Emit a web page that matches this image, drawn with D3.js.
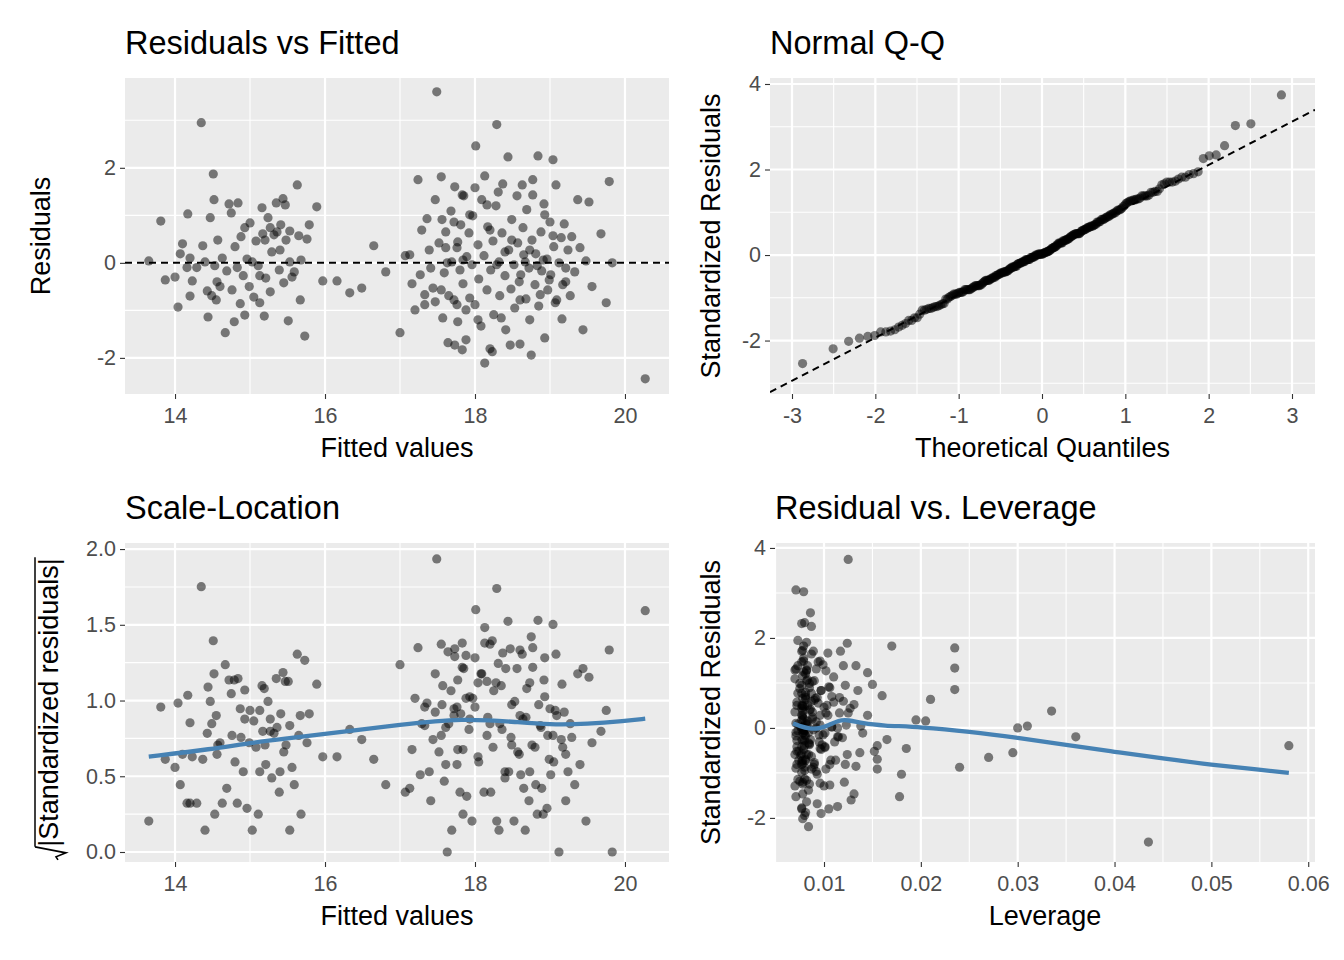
<!DOCTYPE html>
<html><head><meta charset="utf-8">
<script src="https://cdn.jsdelivr.net/npm/d3@7"></script>
<style>body{margin:0;background:#fff}text{font-family:"Liberation Sans",Arial,sans-serif}</style>
</head><body>
<svg id="c" width="1344" height="960"></svg>
<script>
// [fitted, residual, leverage]
const points = [
[13.65,0.04,0.031],[13.81,0.88,0.0105],[13.87,-0.36,0.0098],[14.0,-0.3,0.0095],[14.04,-0.93,0.0092],[14.07,0.19,0.0088],[14.1,0.4,0.0086],[14.16,-0.1,0.0084],[14.17,1.03,0.0083],[14.2,-0.7,0.0081],
[14.23,-0.38,0.008],[14.35,2.95,0.0071],[14.37,0.36,0.0078],[14.4,0.02,0.0077],[14.43,-0.59,0.0076],[14.44,-1.14,0.0075],[14.47,0.95,0.0075],[14.49,-0.69,0.0074],[14.51,1.87,0.0073],[14.52,1.33,0.0073],
[14.53,-0.06,0.0073],[14.55,-0.78,0.0072],[14.57,0.48,0.0072],[14.6,-0.5,0.0072],[14.63,0.1,0.0071],[14.67,-1.47,0.0071],[14.69,-0.17,0.0071],[14.72,1.24,0.007],[14.75,1.05,0.007],[14.76,-0.57,0.007],
[14.79,-1.24,0.0070],[14.8,0.34,0.0070],[14.83,-0.1,0.0071],[14.84,1.26,0.0071],[14.87,-0.86,0.0071],[14.88,0.55,0.0072],[14.91,-0.27,0.0072],[14.93,-1.1,0.0073],[14.96,0.08,0.0073],[14.99,-0.5,0.0074],
[15.0,0.84,0.0075],[15.03,0.02,0.0076],[15.05,-0.72,0.0077],[15.08,0.46,0.0078],[15.11,-0.06,0.0079],[15.13,-0.84,0.008],[15.16,1.16,0.0081],[15.19,-1.12,0.0082],[15.2,0.48,0.0083],[15.21,-0.32,0.0084],
[15.24,0.95,0.0085],[15.27,-0.61,0.0087],[15.29,0.23,0.0088],[15.32,0.59,0.009],[15.35,1.26,0.0092],[15.36,0.65,0.0093],[15.39,-0.15,0.0095],[15.41,0.8,0.0097],[15.44,1.35,0.0099],[15.45,-0.42,0.0101],
[15.48,0.48,0.0103],[15.51,-1.22,0.0106],[15.53,0.67,0.0108],[15.56,-0.3,0.0111],[15.59,-0.19,0.0114],[15.63,1.64,0.0117],[15.65,0.57,0.012],[15.68,0.06,0.0123],[15.73,-1.54,0.0128],[15.76,0.5,0.0131],
[15.79,0.8,0.0135],[15.89,1.18,0.0145],[15.97,-0.38,0.0155],[16.16,-0.38,0.058],[16.33,-0.63,0.027],[16.49,-0.53,0.0295],[16.65,0.36,0.0335],[16.81,-0.19,0.036],[17.0,-1.47,0.0178],
[17.07,0.15,0.0205],[17.13,0.17,0.0195],[17.16,-0.44,0.0185],[17.2,-0.99,0.018],[17.24,1.75,0.017],[17.27,-0.25,0.0165],[17.29,0.69,0.016],[17.33,-0.67,0.0155],[17.36,0.93,0.015],[17.39,0.27,0.0145],
[17.41,-0.11,0.014],[17.44,-0.53,0.0137],[17.47,1.33,0.0133],[17.49,3.6,0.0125],[17.52,0.42,0.0127],[17.55,1.81,0.0124],[17.57,-1.16,0.0121],[17.59,-0.21,0.0119],[17.61,0.65,0.0116],[17.64,-1.68,0.0114],
[17.65,-0.69,0.0112],[17.68,1.09,0.011],[17.69,0.02,0.0108],[17.72,-0.78,0.0106],[17.73,1.6,0.0104],[17.76,0.32,0.0102],[17.77,-1.24,0.01],[17.8,-0.15,0.0099],[17.81,0.8,0.0097],[17.84,-0.44,0.0096],
[17.85,1.41,0.0094],[17.88,-1.62,0.0093],[17.89,0.13,0.0092],[17.92,0.63,0.0091],[17.93,-0.74,0.009],[17.96,-0.04,0.0089],[17.97,0.99,0.0088],[18.0,-0.88,0.0087],[18.01,2.46,0.0086],[18.04,0.38,0.0085],
[18.05,-0.34,0.0085],[18.08,-1.33,0.0084],[18.09,1.33,0.0083],[18.12,0.15,0.0083],[18.13,1.83,0.0082],[18.16,-0.57,0.0082],[18.17,0.76,0.0081],[18.2,-1.81,0.0081],[18.21,-0.15,0.008],[18.24,0.46,0.008],
[18.25,-1.09,0.008],[18.28,1.2,0.0079],[18.29,2.91,0.0079],[18.32,0.02,0.0079],[18.33,-0.69,0.0078],[18.36,0.63,0.0078],[18.37,1.66,0.0078],[18.4,-0.27,0.0078],[18.41,-1.41,0.0078],[18.44,2.23,0.0077],
[18.45,0.27,0.0077],[18.48,-0.55,0.0077],[18.49,0.91,0.0077],[18.52,-0.04,0.0077],[18.53,-0.95,0.0077],[18.56,1.41,0.0077],[18.57,0.42,0.0077],[18.6,-1.71,0.0077],[18.61,-0.25,0.0077],[18.64,0.74,0.0077],
[18.65,0.17,0.0077],[18.68,-0.76,0.0078],[18.69,1.12,0.0078],[18.72,-0.11,0.0078],[18.73,-1.2,0.0078],[18.76,0.48,0.0078],[18.77,1.75,0.0079],[18.8,-0.46,0.0079],[18.81,0.19,0.0079],[18.84,2.25,0.008],
[18.85,-0.91,0.008],[18.88,0.65,0.0081],[18.89,-0.17,0.0081],[18.92,1.24,0.0082],[18.93,-1.58,0.0082],[18.96,0.08,0.0083],[18.97,-0.57,0.0084],[19.0,0.86,0.0085],[19.01,-0.25,0.0086],[19.04,2.17,0.0087],
[19.05,0.34,0.0088],[19.08,1.64,0.0089],[19.09,-0.78,0.009],[19.12,0.0,0.0092],[19.15,0.53,0.0094],[19.16,-1.18,0.0096],[19.19,0.82,0.0235],[19.21,-0.4,0.0101],[19.24,0.27,0.0104],[19.27,-0.69,0.0107],
[19.29,0.55,0.011],[19.33,-0.19,0.0115],[19.37,1.33,0.012],[19.4,0.32,0.0125],[19.44,-1.41,0.0131],[19.48,0.04,0.0138],[19.52,1.28,0.0235],[19.56,-0.5,0.0152],[19.68,0.61,0.021],[19.75,-0.84,0.024],
[19.79,1.71,0.0235],[19.83,0.0,0.030],[20.27,-2.44,0.0435],
[17.73,-1.73,0.0105],[17.83,-1.83,0.0097],[18.13,-2.11,0.0084],[18.23,-1.87,0.008],[18.47,-1.73,0.0077],[18.75,-1.94,0.0078],[18.59,-0.4,0.0077],[18.67,0.02,0.0078],[18.73,0.27,0.0078],[18.83,-0.06,0.008],
[18.91,0.06,0.0082],[18.99,-0.36,0.0085],[18.49,0.48,0.0077],[18.4,0.23,0.0078],[18.29,-0.04,0.0079],[18.2,0.69,0.0081],[17.93,1.01,0.009],[17.84,0.06,0.0096],[17.77,0.44,0.01],[17.63,0.0,0.0114],
[17.55,-0.57,0.0124],[17.47,-0.82,0.0133],[17.33,-0.88,0.0155],[17.76,-0.88,0.0102],[17.88,-0.99,0.0093],[18.04,-1.2,0.0085],[18.35,-1.16,0.0078],[18.6,-0.78,0.0077],[18.87,-0.67,0.0081],[19.07,-0.84,0.0089],
[19.17,-0.46,0.0097],[19.21,-0.11,0.0101],[19.04,0.57,0.0087],[18.93,1.01,0.0082],[18.77,1.43,0.0079],[18.63,1.64,0.0077],[18.31,1.49,0.0079],[18.16,1.22,0.0082],[18.0,1.58,0.0087],[17.83,1.43,0.0096],
[17.72,0.86,0.0106],[17.61,0.32,0.0116],[17.56,0.91,0.0122],
[14.2,0.1,0.0081],[14.29,-0.1,0.0079],[14.56,-0.4,0.0072],[15.13,-0.27,0.008],[15.4,0.27,0.0096],[15.53,0.02,0.0108],[15.67,-0.78,0.0122],[14.93,0.74,0.0073],[15.27,0.74,0.0087],[15.47,1.22,0.0102],[15.17,0.61,0.0081]
];
const residScale = 1.04;
const slSmooth = [[13.65,0.63],[14.5,0.68],[15.0,0.72],[15.5,0.75],[16.0,0.78],[16.5,0.81],[17.0,0.84],[17.5,0.865],[17.8,0.875],[18.2,0.87],[18.5,0.86],[19.0,0.84],[19.5,0.845],[20.0,0.865],[20.27,0.88]];
const levSmooth = [[0.0068,0.1],[0.0075,0.04],[0.0085,-0.02],[0.0095,-0.02],[0.0105,0.06],[0.0115,0.17],[0.0125,0.18],[0.014,0.1],[0.016,0.05],[0.02,0.02],[0.025,-0.08],[0.03,-0.22],[0.035,-0.38],[0.04,-0.53],[0.045,-0.68],[0.05,-0.82],[0.055,-0.93],[0.058,-1.0]];
const titles = ["Residuals vs Fitted","Normal Q-Q","Scale-Location","Residual vs. Leverage"];

const svg = d3.select("#c");
const std = points.map(p=>p[1]*residScale);

function qnorm(p){const a=[-39.6968302866538,220.946098424521,-275.928510446969,138.357751867269,-30.6647980661472,2.50662827745924],b=[-54.4760987982241,161.585836858041,-155.698979859887,66.8013118877197,-13.2806815528857],c=[-0.00778489400243029,-0.322396458041136,-2.40075827716184,-2.54973253934373,4.37466414146497,2.93816398269878],d=[0.00778469570904146,0.32246712907004,2.445134137143,3.75440866190742];const pl=0.02425;let q,r;if(p<pl){q=Math.sqrt(-2*Math.log(p));return(((((c[0]*q+c[1])*q+c[2])*q+c[3])*q+c[4])*q+c[5])/((((d[0]*q+d[1])*q+d[2])*q+d[3])*q+1);}if(p>1-pl){q=Math.sqrt(-2*Math.log(1-p));return-(((((c[0]*q+c[1])*q+c[2])*q+c[3])*q+c[4])*q+c[5])/((((d[0]*q+d[1])*q+d[2])*q+d[3])*q+1);}q=p-0.5;r=q*q;return(((((a[0]*r+a[1])*r+a[2])*r+a[3])*r+a[4])*r+a[5])*q/(((((b[0]*r+b[1])*r+b[2])*r+b[3])*r+b[4])*r+1);}

function panel(o){
  const g = svg.append("g");
  const x = d3.scaleLinear().domain(o.xd).range([o.x0,o.x1]);
  const y = d3.scaleLinear().domain(o.yd).range([o.y1,o.y0]);
  g.append("rect").attr("x",o.x0).attr("y",o.y0).attr("width",o.x1-o.x0).attr("height",o.y1-o.y0).attr("fill","#EBEBEB");
  const grid=(vals,isX,w)=>vals.forEach(v=>{ if(isX) g.append("line").attr("x1",x(v)).attr("x2",x(v)).attr("y1",o.y0).attr("y2",o.y1).attr("stroke","#fff").attr("stroke-width",w);
    else g.append("line").attr("y1",y(v)).attr("y2",y(v)).attr("x1",o.x0).attr("x2",o.x1).attr("stroke","#fff").attr("stroke-width",w);});
  grid(o.xminor,true,1.1); grid(o.yminor,false,1.1); grid(o.xt,true,2.2); grid(o.yt,false,2.2);
  const ax = d3.axisBottom(x).tickValues(o.xt).tickSize(5).tickPadding(4).tickFormat(o.xf||(d=>d));
  const gx = g.append("g").attr("transform",`translate(0,${o.y1})`).call(ax);
  const ay = d3.axisLeft(y).tickValues(o.yt).tickSize(5).tickPadding(4).tickFormat(o.yf||(d=>d));
  const gy = g.append("g").attr("transform",`translate(${o.x0},0)`).call(ay);
  [gx,gy].forEach(a=>{a.select(".domain").remove();a.selectAll("line").attr("stroke","#333").attr("stroke-width",1.1);
    a.selectAll("text").attr("fill","#4D4D4D").style("font-size","21.5px").style("font-family","Liberation Sans, Arial, sans-serif");});
  gx.selectAll("text").attr("dy","0.95em");
  g.append("text").attr("x",o.x0).attr("y",o.y0-24).text(o.title).style("font-size","32.5px");
  g.append("text").attr("x",(o.x0+o.x1)/2).attr("y",o.y1+63).attr("text-anchor","middle").text(o.xl).style("font-size","27px");
  if(o.yl){g.append("text").attr("transform",`translate(${o.ylx},${(o.y0+o.y1)/2}) rotate(-90)`).attr("text-anchor","middle").text(o.yl).style("font-size","27px");}
  return {g,x,y};
}
const xf1 = d3.format("d");
// Panel 1
let p = panel({x0:125,x1:669,y0:78,y1:394,xd:[13.333,20.587],yd:[-2.76,3.89],xt:[14,16,18,20],xminor:[15,17,19],yt:[-2,0,2],yminor:[-1,1,3],title:titles[0],xl:"Fitted values",yl:"Residuals",ylx:50});
p.g.append("line").attr("x1",p.x(13.333)).attr("x2",p.x(20.587)).attr("y1",p.y(0)).attr("y2",p.y(0)).attr("stroke","#000").attr("stroke-width",2).attr("stroke-dasharray","7,5");
p.g.selectAll("circle").data(points).join("circle").attr("cx",d=>p.x(d[0])).attr("cy",d=>p.y(d[1])).attr("r",4.6).attr("fill","rgba(0,0,0,0.5)");

// Panel 2
p = panel({x0:770,x1:1315,y0:78,y1:394,xd:[-3.264,3.276],yd:[-3.25,4.14],xt:[-3,-2,-1,0,1,2,3],xminor:[-2.5,-1.5,-0.5,0.5,1.5,2.5],yt:[-2,0,2,4],yminor:[-3,-1,1,3],title:titles[1],xl:"Theoretical Quantiles",yl:"Standardized Residuals",ylx:720});
const sorted = std.slice().sort((a,b)=>a-b), n=sorted.length;
const a0 = n<=10?3/8:0.5;
const qq = sorted.map((v,i)=>[qnorm((i+1-a0)/(n+1-2*a0)),v]);
const q1=d3.quantile(sorted,0.25), q3=d3.quantile(sorted,0.75), t1=qnorm(0.25), t3=qnorm(0.75);
const slope=(q3-q1)/(t3-t1), icpt=q1-slope*t1;
const lx0=-3.264, lx1=3.276;
const clip = svg.append("clipPath").attr("id","cp2").append("rect").attr("x",770).attr("y",78).attr("width",545).attr("height",316);
p.g.append("line").attr("clip-path","url(#cp2)").attr("x1",p.x(lx0)).attr("x2",p.x(lx1)).attr("y1",p.y(icpt+slope*lx0)).attr("y2",p.y(icpt+slope*lx1)).attr("stroke","#000").attr("stroke-width",2).attr("stroke-dasharray","7,5");
p.g.selectAll("circle").data(qq).join("circle").attr("cx",d=>p.x(d[0])).attr("cy",d=>p.y(d[1])).attr("r",4.6).attr("fill","rgba(0,0,0,0.5)");

// Panel 3
p = panel({x0:125,x1:669,y0:543,y1:862,xd:[13.333,20.587],yd:[-0.066,2.04],xt:[14,16,18,20],xminor:[15,17,19],yt:[0,0.5,1,1.5,2],yminor:[0.25,0.75,1.25,1.75],yf:d3.format(".1f"),title:titles[2],xl:"Fitted values",yl:null});
p.g.selectAll("circle").data(points).join("circle").attr("cx",d=>p.x(d[0])).attr("cy",d=>p.y(Math.sqrt(Math.abs(d[1]*residScale)))).attr("r",4.6).attr("fill","rgba(0,0,0,0.5)");
p.g.append("path").datum(slSmooth).attr("d",d3.line().curve(d3.curveBasis).x(d=>p.x(d[0])).y(d=>p.y(d[1]))).attr("fill","none").attr("stroke","#4682B4").attr("stroke-width",4.3);
const yl3 = svg.append("g").attr("transform",`translate(58,${(543+862)/2}) rotate(-90)`);
const yt3 = yl3.append("text").attr("text-anchor","middle").style("font-size","27px").text("|Standardized residuals|");
const bb = yt3.node().getBBox();
yl3.append("line").attr("x1",bb.x).attr("x2",bb.x+bb.width+1).attr("y1",bb.y+1).attr("y2",bb.y+1).attr("stroke","#000").attr("stroke-width",1.5);
yl3.append("path").attr("d",`M${bb.x} ${bb.y+1} L${bb.x-6} ${bb.y+bb.height+2} L${bb.x-10} ${bb.y+bb.height-8} L${bb.x-13} ${bb.y+bb.height-6}`).attr("fill","none").attr("stroke","#000").attr("stroke-width",1.6);

// Panel 4
p = panel({x0:775,x1:1315,y0:543,y1:862,xd:[0.00494,0.0607],yd:[-2.98,4.11],xt:[0.01,0.02,0.03,0.04,0.05,0.06],xminor:[0.005,0.015,0.025,0.035,0.045,0.055],xf:d3.format(".2f"),yt:[-2,0,2,4],yminor:[-3,-1,1,3],title:titles[3],xl:"Leverage",yl:"Standardized Residuals",ylx:720});
p.g.selectAll("circle").data(points).join("circle").attr("cx",d=>p.x(d[2])).attr("cy",d=>p.y(d[1]*residScale)).attr("r",4.6).attr("fill","rgba(0,0,0,0.5)");
p.g.append("path").datum(levSmooth).attr("d",d3.line().curve(d3.curveBasis).x(d=>p.x(d[0])).y(d=>p.y(d[1]))).attr("fill","none").attr("stroke","#4682B4").attr("stroke-width",4.3);
</script></body></html>
